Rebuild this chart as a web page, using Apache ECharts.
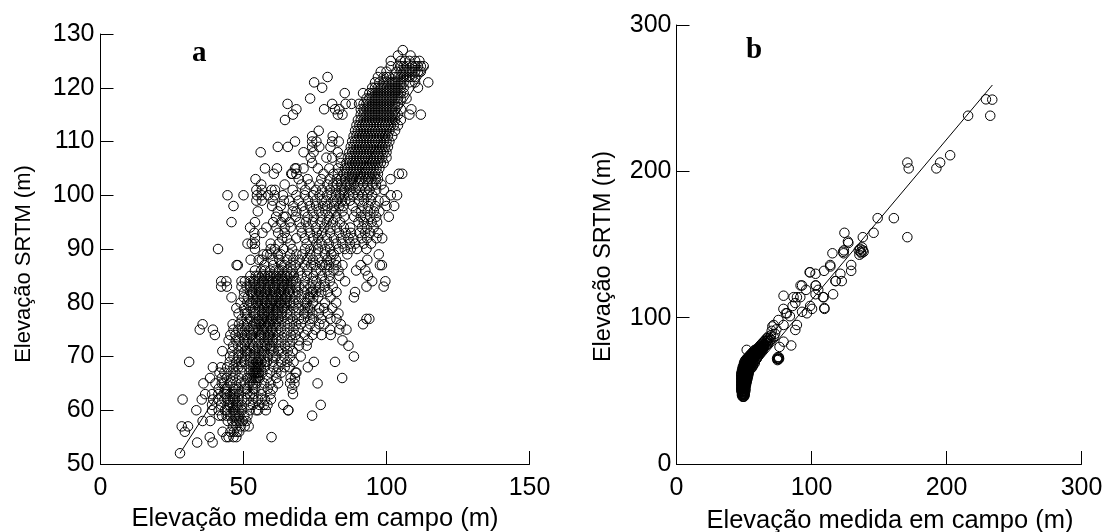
<!DOCTYPE html>
<html>
<head>
<meta charset="utf-8">
<style>
  html, body { margin: 0; padding: 0; background: #fff; }
  #chart { width: 1106px; height: 532px; }
</style>
<script src="https://cdn.jsdelivr.net/npm/echarts@6/dist/echarts.min.js"></script>
</head>
<body>
<div id="chart"></div>
<script>
// panel a: SRTM reading is whole metres, so the points are listed row by row
const srtmLevelsA = [127,126,125,124,123,122,121,120,119,118,117,116,115,114,113,112,111,110,109,108,107,106,105,104,103,102,101,100,99,98,97,96,95,94,93,92,91,90,89,88,87,86,85,84,83,82,81,80,79,78,77,76,75,74,73,72,71,70,69,68,67,66,65,64,63,62,61,60,59,58,57,56,55,54,53,52];
const fieldRowsA = [
  [105.7],
  [104,108.4],
  [101.5,105,106.5,108,110,111.5],
  [101.5,104,105,106,107,109,110,111,112,113],
  [98,100,103.5,105,106,107,108,109,110,111,112],
  [79.4,97,99,100,101,103,104,105,106,107,108,109,110],
  [74.7,96,97.5,99,100,101,102,103,104,105,106,108,110,114.6],
  [77.5,95,96,97,98,99,100,101,102,103,104,105,106,111],
  [85.4,91.8,94,95,96,97,98,99,100,101,102,103,104,105,106],
  [73.3,93,94,95,96,97,98,99,100,101,102,103,104,105,107],
  [65.4,81,85.7,87.8,90.4,92,93,94,95,96,97,98,99,100,101,102,103,104],
  [68.5,78.2,82,83.5,91,92,93,94,95,96,97,98,99,100,101,102,103,105,108.7],
  [67.3,83,84.6,91,92,93,94,95,96,97,98,99,100,101,102,103,104,108,112],
  [64.5,90,91,92,93,94,95,96,97,98,99,100,101,102,103,105],
  [89.5,90.5,91.5,92.5,93.5,94.5,95.5,96.5,97.5,98.5,99.5,100.5,101.5,102.5,104],
  [76.3,89,90,91,92,93,94,95,96,97,98,99,100,101,103],
  [74,81.2,88.5,89.5,90.5,91.5,92.5,93.5,94.5,95.5,96.5,97.5,98.5,99.5,100.5,102],
  [68,74,75.5,81,83.3,88,89,90,91,92,93,94,95,96,97,98,99,100,101],
  [62,65.5,74,76.5,80.4,87.5,88.5,89.5,90.5,91.5,92.5,93.5,94.5,95.5,96.5,97.5,98.5,99.5,100.5],
  [56,71,74.5,83,87,88,89,90,91,92,93,94,95,96,97,98,99,100],
  [73.5,79,81,84,86.5,87.5,88.5,89.5,90.5,91.5,92.5,93.5,94.5,95.5,96.5,97.5,98.5,100],
  [74,84,86,87,88,89,90,91,92,93,94,95,96,97,98,99],
  [57.5,61.7,68,68.5,71,76,80,83,85.5,86.5,87.5,88.5,89.5,90.5,91.5,92.5,93.5,94.5,95.5,96.5,97.5],
  [60.6,66.7,67,68.5,78,81.5,83,85,86,87,88,89,90,91,92,93,94,95,96,97,104.3,105.5],
  [54.2,69.3,72.4,77.2,80.1,82.6,84,85.5,87.2,88.1,89.4,90.6,91.3,92.7,93.5,94.8,96.2,97,101.4],
  [56.2,64.4,70.3,73.1,76.6,79.3,81.4,82.8,84.1,85.7,86.3,87.5,88.6,90.1,91.8,93.4,95.1,96.3,98.2],
  [54.5,56.4,59.8,61,67.2,71.6,75.3,77.5,80.2,82.4,84.3,85.2,87.1,89.3,90.7,92.6,94.1,96.4,99.1],
  [44.4,50,54.7,56.3,58.6,60.9,63.8,68.5,71.4,74.3,76.6,79.2,80.8,82.3,83.6,85.1,86.7,88.4,90.2,91.5,93.3,95,101.5,103.7],
  [54.5,56.4,60.2,64.1,66,69.3,72.6,75.1,77.4,78.9,81.5,82.7,84.4,85.6,87.2,90.3,92.1,94.6,97.2,99.4],
  [46.5,60,63,67.4,70.6,73.2,75.4,77.8,79.3,81.7,83.5,84.9,88.2,91.6,93.7,96.1,100,102.7],
  [55,62,67.2,68.5,71.3,74.1,76.4,78.6,80.8,82.2,84.6,89.3,91.2,93.4,95.6,97.5],
  [61.4,64,64.8,68.3,72.4,74.6,77.3,79.9,82.5,85.2,88.7,91,92.6,94.3,96.4,100.8],
  [45.8,54,60.4,63.2,66.1,69.6,71.8,74.2,76.9,79.1,81.3,83.8,90.2,92.1,94.8,96.7],
  [52.3,58,61.5,64.4,66.5,70.2,72.7,75.3,78.2,80.4,82.6,85.1,87.3,91.4,93.2,95.5],
  [53.8,56.6,62.1,64.4,70.4,73.2,75.6,77.5,80.3,83.4,85.7,87.6,90.5,92.5,94.3,97],
  [54,63.5,65.2,68.5,71.4,74.3,76.2,79.1,81.6,84.2,86.7,88.4,91.3,93.2,96.5,98.5],
  [51.4,52.9,54,59.5,62.3,66.4,72.1,75.5,77.3,79.8,82.4,84.6,87.2,89.1,92,94.6],
  [41.1,54,59.5,61,64,67,71.5,73.4,76.1,78.6,80.3,83.2,85.4,87.5,89.7,93],
  [57,58.2,59.4,62,63.1,66.3,68.5,70.6,73.3,75.5,78.4,80.7,81.6,86.3,97.3],
  [52.5,55.3,56.4,60.2,62.5,65.2,67.4,69.6,72.1,74.3,76.5,79.2,80.4,82.3,93.3],
  [47.6,48,57.3,60.4,63.2,64.3,66.5,68.2,71.4,73.6,75.2,77.5,78.7,79.9,82.4,84.6,91,97.7,98.4],
  [54,56.2,57.5,59.3,61.2,62.4,63.5,65.3,67.2,69.6,72.3,75.4,77,79.3,81.5,83.2,89.4,92.6],
  [52.4,54.3,55.2,56.5,57.4,58.6,59.3,60.5,61.4,62.6,63.3,64.5,65.2,66.4,67.6,70.3,72.2,74.5,77.4,80,83.5,93.5],
  [42.2,44,49.3,50.5,52.2,53.4,54.1,55.3,56.5,57.2,58.4,59.1,60.3,61.5,62.2,63.4,64.1,65.3,66.5,67.3,68.5,71.4,74.2,75.5,78.3,80.2,85.5,95,99.6],
  [42.2,44.2,49.3,51.1,52.3,53.5,54.2,55.4,56.1,57.3,58.5,59.2,60.4,61.1,62.3,63.5,64.2,65.4,66.1,68.3,69.5,71.2,73.4,75.1,76.6,78.5,81.2,93,99],
  [50.2,52.4,53.1,54.3,55.5,56.2,57.4,58.1,59.3,60.5,61.2,62.4,63.1,64.3,65.5,66.2,67.4,69.1,71.3,73.5,74.2,75.4,77.2,79.5,82.5,89],
  [45.8,50.1,51.5,53.3,54.5,55.2,56.4,57.1,58.3,59.5,60.2,61.4,62.1,63.3,64.5,65.2,66.4,68.1,70.3,72.5,73.2,74.4,76.1,80.4,88.6],
  [49,51.3,52.5,53.2,54.4,55.1,56.3,57.5,58.2,59.4,60.1,61.3,62.5,63.2,64.4,65.1,66.3,67.5,69.2,71.4,72.1,74.3,78.5,82.4],
  [47.5,50.2,52.4,54.1,55.3,56.5,57.2,58.4,59.1,60.3,61.5,62.2,63.4,64.1,65.3,67.5,69.2,71.4,72.6,73.3,76.5,78.2,81],
  [48.3,50.5,51.2,53.4,54.1,55.3,56.5,57.2,58.4,59.1,60.3,61.5,62.2,63.4,65.1,66.3,68.5,71.2,72.4,74.1,76.3,79.5,83.2],
  [49.4,51.1,52.3,54.5,55.2,56.4,57.1,58.3,59.5,60.2,61.4,62.1,63.3,65.5,67.2,69.4,71.1,73.3,74.5,77.2,80.4,82.5,93,94],
  [35.7,46.2,48.4,50.1,51.3,53.5,54.2,55.4,56.1,57.3,58.5,59.2,60.4,61.1,62.3,64.5,66.2,68.4,70.1,73.3,76.5,78.2,84,91.8],
  [34.7,39.3,46.5,48.2,49.4,50.6,52.1,53.3,54.5,55.2,56.4,57.1,58.3,59.5,60.2,61.4,63.1,65.3,67.5,69.2,72.4,75.1,80.3,83.5,86],
  [40,45.4,47.2,49.4,50.6,51.3,52.5,53.2,55.4,56.1,57.3,58.5,59.2,60.4,62.1,64.3,66.5,68.2,71.4,74.1,77.3,80.5],
  [44.8,47.3,48.5,50.2,51.4,53.1,54.3,55.5,57.2,58.4,59.1,60.3,61.5,63.2,65.4,67.1,69.3,72.5,84.6],
  [46.4,48.1,49.3,50.5,52.2,53.4,55.1,56.3,57.5,58.2,59.4,60.1,62.3,64.5,66.2,69.4,72.1,86.7],
  [42.6,46.1,48.3,50.5,51.2,52.4,54.1,55.3,56.5,57.2,59.4,60.6,62.1,63.3,65.5,67.2],
  [45.3,46.5,48.2,49.4,50.6,52.3,53.5,54.2,55.4,56.1,57.3,58.5,60.2,61.4,64.1,66.3,70,88.6],
  [31,45.2,47.4,49.1,50.3,52.5,53.2,54.4,55.1,56.3,57.5,58.2,60.4,63.1,65.3,67.5,74.6,82],
  [39.3,42.1,44.3,46.5,48.2,49.4,52.1,53.3,53.9,54.4,54.9,55.4,56.1,57.3,60.5,62.2,64.4,66.1,72.5],
  [41.6,43.3,45.5,47.2,49.4,52.1,53.3,53.9,54.4,54.9,55.4,56.6,59.3,61.5,63.2,68.2,68.5],
  [38.3,42.4,44.1,46.3,48.5,51.2,52.4,53.1,53.8,54.4,55,55.6,58.3,61.5,66.5,68,84.5],
  [36,40.2,42.4,43.1,45.3,47.5,49.2,50.4,52.1,53.3,54.5,57.2,59.4,62.1,66.3,75.9,67.8],
  [41.3,43.5,44.2,46.4,47.1,48.3,50.5,51.2,53.4,54.1,56.3,58.5,60.2,67],
  [36.6,39,41.2,43.4,44.1,45.3,46.5,47.2,48.4,51.1,52.3,53.5,56.2,59.4,67.3],
  [28.7,35.4,39.4,41.1,43.3,44.5,45.2,46.4,47.1,48.3,49.5,51.2,53.4,55.1,56.3,57.5,59.6],
  [39,42.2,44.4,45.1,46.3,47.5,48.2,49.4,52.1,53.3,55.5,57.2,58.4,63.9,77],
  [33.5,39,41.3,43.5,44.2,46.4,47.1,48.3,49.5,52.2,54.4,55.1,57.8,65.7,65.6],
  [41.4,42.5,44.1,45.3,46.5,47.2,47.9,48.6,50.3,51.4,74],
  [35.7,38.4,44.5,46.1,47.3,48.5,49.7,51],
  [28.4,30.6,46.3,47.5,49,50.4,51.8],
  [29.5,42.7,45.4,46.6,47.8,48.5],
  [38.2,44,44.8,46.5,47.5,59.8],
  [33.8,39.2],
  [],
  [27.8]
];

// panel b: scattered points above the dense part
const fieldB = [229.2,233.9,232.4,216,202.7,195.3,192.5,171,172,149,161,171,146,138,124.4,127,127.3,123.4,123.8,124,115.5,135,136,136.5,137,137.5,138,138.6,135.5,113.8,129.4,129.4,121.4,109.3,98.6,99,103,118,122.4,103,93,96,108.5,116,109.5,114,117.7,91.9,103.3,105,79.3,86.7,89.2,91.7,109,103,109.6,100.4,79.2,81,86,88,93,96.6,99,81.8,84,89.2,88,79.3,75.5,85,79.3,76.3,74.5,74.8,75,75.2,75.5,75.8,76,52,72,74,71,73,70.5];
const srtmB = [249.2,249,238,238,211,206,202,206,202,168,168,155,158,155,158,152,151,145,144,146,144,146,147,145,144,148,146,145,143,136,136,132,130,132,131,131,130,125,125,122,122,119,114,116,106.6,135,125,122,122,119,115,114,114,114,114,116,106,106,106,103,108,110,104,103,108,103,101,95,91.6,95,98.4,81,83.6,80,72,71,73,72,71.5,73,72,78,95,92,94,89,91];
// dense blob near the origin of the fit line
const srtmLevelsB = [46,47,48,49,50,51,52,53,54,55,56,57,58,59,60,61,62,63,64,65,66,67,68,69,70,71,72,73,74,75,76,77,78,79,80,81,82,83,84,85,86,87,88];
const fieldRowsB = [
  [49,49.5,50],
  [48.5,49,49.5,50,50.5],
  [48.5,49,49.5,50,50.5],
  [48.5,49,50,50.5],
  [48,49,49.5,50,51],
  [48,48.5,49,50,51],
  [48,49,50,50.5,51],
  [48,48.5,49,50,51],
  [48,49,50,51,51.5],
  [48,48.5,49.5,50,51,51.5],
  [48,49,50,51,52],
  [48,49,50,50.5,51.5,52],
  [48,49,50,51,52,52.5],
  [48,48.5,49.5,50.5,51.5,52.5],
  [48,49,50,51,52,53],
  [48,49,50,51,52,53],
  [48,49,50,51,52,53.5],
  [48.5,49.5,50.5,51.5,52.5,53.5],
  [48.5,49.5,50.5,51.5,52.5,54],
  [49,50,51,52,53,54,55],
  [49,50,51,52,53,54.5,56],
  [49.5,50.5,51.5,52.5,53.5,55,56.5],
  [50,51,52,53,54,55.5,57],
  [50,51,52,53,54,55,56.5,58],
  [50.5,51.5,52.5,53.5,54.5,55.5,57.5],
  [51,52,53,54,55,56,58.5],
  [52,53,54,55,56,57,59.5],
  [53,54,55,56,57,58,60],
  [54,55,56,57,58,59,60.5],
  [55,56,57,58,59,60,61.5],
  [56,57,58,59,60,61,62],
  [57,58,59,60,61,62,63],
  [58,59,60,61,62,63,64],
  [60,61,62,63,64],
  [61,62,63,64,65],
  [62,64,65,66.5],
  [63,65,67.5],
  [64,66,68],
  [65,67,69],
  [66,68,70],
  [67,69],
  [68,72],
  [70]
];

const lineFieldA = [27.8, 114.6];
const lineSrtmA = [52, 124];
const lineFieldB = [48, 234];
const lineSrtmB = [55, 259];

const xTitle = "Elevação medida em campo (m)";
const yTitle = "Elevação SRTM (m)";

const toPoints = (levels, rows) => levels.flatMap((y, i) => rows[i].map(x => [x, y]));
const zip = (xs, ys) => xs.map((x, i) => [x, ys[i]]);

const pointsA = toPoints(srtmLevelsA, fieldRowsA);
const pointsB = zip(fieldB, srtmB).concat(toPoints(srtmLevelsB, fieldRowsB));

const font = "'Liberation Sans', Arial, sans-serif";

const axisBase = {
  type: "value",
  nameLocation: "middle",
  splitLine: { show: false },
  axisLine: { show: true, onZero: false, lineStyle: { color: "#000", width: 1 } },
  axisTick: { show: true, inside: true, length: 13, lineStyle: { color: "#000", width: 1 } }
};
const axisText = (fontSize, padding) => ({ fontFamily: font, fontSize: fontSize, color: "#000", padding: padding });
const tickText = margin => ({ fontFamily: font, fontSize: 25, color: "#000", margin: margin, showMinLabel: true, showMaxLabel: true });

const scatter = (idx, data) => ({
  type: "scatter",
  xAxisIndex: idx,
  yAxisIndex: idx,
  data: data,
  symbol: "circle",
  symbolSize: 9.5,
  clip: false,
  itemStyle: { color: "rgba(0,0,0,0)", borderColor: "#000", borderWidth: 1, opacity: 1 },
  silent: true
});

const fitLine = (idx, data) => ({
  type: "line",
  xAxisIndex: idx,
  yAxisIndex: idx,
  data: data,
  showSymbol: false,
  lineStyle: { color: "#000", width: 1 },
  silent: true
});

const chart = echarts.init(document.getElementById("chart"), null, { renderer: "canvas" });
chart.setOption({
  animation: false,
  backgroundColor: "#fff",
  grid: [
    { left: 100.5, top: 34, width: 429, height: 430, outerBoundsMode: "none" },
    { left: 676.5, top: 25, width: 405, height: 439, outerBoundsMode: "none" }
  ],
  xAxis: [
    Object.assign({}, axisBase, { gridIndex: 0, min: 0, max: 150, interval: 50, name: xTitle, nameGap: 42, nameTextStyle: axisText(25.5, 0), axisLabel: tickText(12) }),
    Object.assign({}, axisBase, { gridIndex: 1, min: 0, max: 300, interval: 100, name: xTitle, nameGap: 44, nameTextStyle: axisText(25.5, [0, 0, 0, 22]), axisLabel: tickText(12) })
  ],
  yAxis: [
    Object.assign({}, axisBase, { gridIndex: 0, min: 50, max: 130, interval: 10, name: yTitle, nameGap: 66, nameTextStyle: axisText(22, [0, 30, 0, 0]), axisLabel: tickText(6) }),
    Object.assign({}, axisBase, { gridIndex: 1, min: 0, max: 300, interval: 100, name: yTitle, nameGap: 61, nameTextStyle: axisText(23.5, [0, 24, 0, 0]), axisLabel: tickText(5) })
  ],
  series: [
    scatter(0, pointsA),
    fitLine(0, zip(lineFieldA, lineSrtmA)),
    scatter(1, pointsB),
    fitLine(1, zip(lineFieldB, lineSrtmB))
  ],
  graphic: [
    { type: "text", left: 192, top: 39, style: { text: "a", font: "bold 29px 'Liberation Serif', serif", fill: "#000" } },
    { type: "text", left: 746, top: 36, style: { text: "b", font: "bold 29px 'Liberation Serif', serif", fill: "#000" } }
  ]
});
</script>
</body>
</html>
